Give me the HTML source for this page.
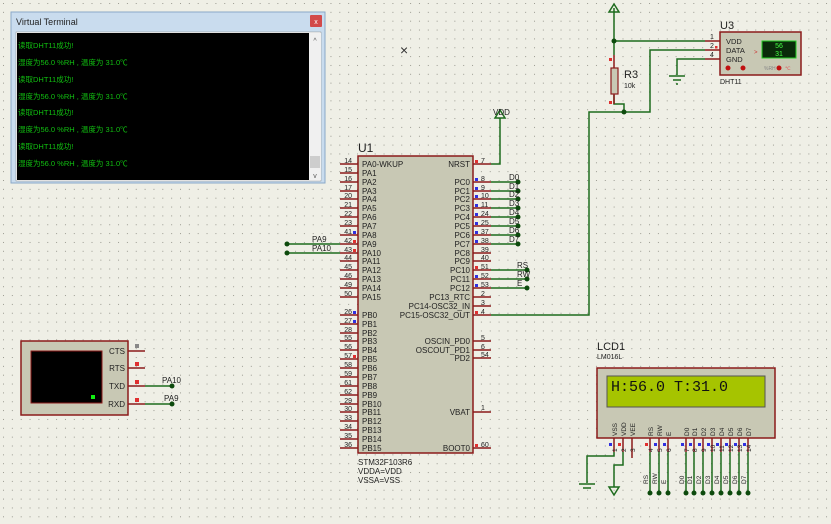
<!DOCTYPE html>
<html><head><meta charset="utf-8"><style>
html,body{margin:0;padding:0;width:831px;height:524px;overflow:hidden;background:#efefe6}
svg{display:block}
text{font-family:"Liberation Sans",sans-serif}
</style></head><body>
<svg width="831" height="524" viewBox="0 0 831 524" xmlns="http://www.w3.org/2000/svg">
<defs>
<pattern id="dots" width="8.85" height="8.85" patternUnits="userSpaceOnUse" x="3" y="3"><rect x="0" y="0" width="1" height="1" fill="#9a9a90"/></pattern>
</defs>
<rect width="831" height="524" fill="#efefe6"/>
<rect width="831" height="524" fill="url(#dots)"/>

<g stroke="#1d6b1d" stroke-width="1.5" fill="none">
<polyline points="491,164 500,164 500,118"/>
<line x1="287" y1="244" x2="340" y2="244"/>
<line x1="287" y1="253" x2="340" y2="253"/>
<line x1="491" y1="182" x2="518" y2="182"/><line x1="491" y1="191" x2="518" y2="191"/>
<line x1="491" y1="199" x2="518" y2="199"/><line x1="491" y1="208" x2="518" y2="208"/>
<line x1="491" y1="217" x2="518" y2="217"/><line x1="491" y1="226" x2="518" y2="226"/>
<line x1="491" y1="235" x2="518" y2="235"/><line x1="491" y1="244" x2="518" y2="244"/>
<line x1="491" y1="270" x2="527" y2="270"/><line x1="491" y1="279" x2="527" y2="279"/>
<line x1="491" y1="288" x2="527" y2="288"/>
<polyline points="491,315 589,315 589,112 650,112 650,50 705,50"/>
<polyline points="614,8 614,55"/>
<polyline points="614,95 614,104 624,104 624,112"/>
<line x1="614" y1="41" x2="705" y2="41"/>
<polyline points="705,59 677,59 677,75"/>
<line x1="145" y1="386" x2="172" y2="386"/>
<line x1="145" y1="404" x2="172" y2="404"/>
<polyline points="614,452 614,456 587,456 587,483"/>
<polyline points="623,452 623,465 614,465 614,487"/>
<line x1="650" y1="452" x2="650" y2="493"/><line x1="659" y1="452" x2="659" y2="493"/><line x1="668" y1="452" x2="668" y2="493"/>
<line x1="686" y1="452" x2="686" y2="493"/><line x1="694" y1="452" x2="694" y2="493"/><line x1="703" y1="452" x2="703" y2="493"/>
<line x1="712" y1="452" x2="712" y2="493"/><line x1="721" y1="452" x2="721" y2="493"/><line x1="730" y1="452" x2="730" y2="493"/>
<line x1="739" y1="452" x2="739" y2="493"/><line x1="748" y1="452" x2="748" y2="493"/>
</g>
<g fill="#0d4a0d">
<circle cx="287" cy="244" r="2.5"/><circle cx="287" cy="253" r="2.5"/>
<circle cx="518" cy="182" r="2.5"/><circle cx="518" cy="191" r="2.5"/><circle cx="518" cy="199" r="2.5"/><circle cx="518" cy="208" r="2.5"/>
<circle cx="518" cy="217" r="2.5"/><circle cx="518" cy="226" r="2.5"/><circle cx="518" cy="235" r="2.5"/><circle cx="518" cy="244" r="2.5"/>
<circle cx="527" cy="270" r="2.5"/><circle cx="527" cy="279" r="2.5"/><circle cx="527" cy="288" r="2.5"/>
<circle cx="614" cy="41" r="2.5"/><circle cx="624" cy="112" r="2.5"/>
<circle cx="172" cy="386" r="2.5"/><circle cx="172" cy="404" r="2.5"/>
<circle cx="650" cy="493" r="2.5"/><circle cx="659" cy="493" r="2.5"/><circle cx="668" cy="493" r="2.5"/>
<circle cx="686" cy="493" r="2.5"/><circle cx="694" cy="493" r="2.5"/><circle cx="703" cy="493" r="2.5"/><circle cx="712" cy="493" r="2.5"/>
<circle cx="721" cy="493" r="2.5"/><circle cx="730" cy="493" r="2.5"/><circle cx="739" cy="493" r="2.5"/><circle cx="748" cy="493" r="2.5"/>
</g>
<g stroke="#1d6b1d" stroke-width="1.5" fill="none">
<polygon points="500,110 495,118 505,118"/>
<polygon points="614,4 609,12 619,12"/>
<line x1="669" y1="76" x2="685" y2="76"/><line x1="673" y1="80" x2="681" y2="80"/><line x1="676" y1="84" x2="678" y2="84"/>
<line x1="579" y1="484" x2="595" y2="484"/><line x1="583" y1="488" x2="591" y2="488"/>
<polygon points="614,495 609,487 619,487"/>
</g>
<text x="493" y="115" font-size="8" fill="#222">VDD</text>
<text x="400" y="55" font-size="14" fill="#333">×</text>

<g font-size="8" fill="#222">
<text x="312" y="242">PA9</text><text x="312" y="251">PA10</text>
<text x="509" y="180">D0</text><text x="509" y="189">D1</text><text x="509" y="197">D2</text><text x="509" y="206">D3</text>
<text x="509" y="215">D4</text><text x="509" y="224">D5</text><text x="509" y="233">D6</text><text x="509" y="242">D7</text>
<text x="517" y="268">RS</text><text x="517" y="277">RW</text><text x="517" y="286">E</text>
<text x="162" y="383">PA10</text><text x="164" y="401">PA9</text>
</g>

<text x="358" y="152" font-size="12" fill="#222">U1</text>
<rect x="358" y="156" width="115" height="297" fill="#c8c8b4" stroke="#8b1a1a" stroke-width="1.5"/>
<g stroke="#8b1a1a" stroke-width="1.5">
<line x1="340" y1="164" x2="358" y2="164"/><line x1="340" y1="173" x2="358" y2="173"/><line x1="340" y1="182" x2="358" y2="182"/><line x1="340" y1="191" x2="358" y2="191"/>
<line x1="340" y1="199" x2="358" y2="199"/><line x1="340" y1="208" x2="358" y2="208"/><line x1="340" y1="217" x2="358" y2="217"/><line x1="340" y1="226" x2="358" y2="226"/>
<line x1="340" y1="235" x2="358" y2="235"/><line x1="340" y1="244" x2="358" y2="244"/><line x1="340" y1="253" x2="358" y2="253"/><line x1="340" y1="261" x2="358" y2="261"/>
<line x1="340" y1="270" x2="358" y2="270"/><line x1="340" y1="279" x2="358" y2="279"/><line x1="340" y1="288" x2="358" y2="288"/><line x1="340" y1="297" x2="358" y2="297"/>
<line x1="340" y1="315" x2="358" y2="315"/><line x1="340" y1="324" x2="358" y2="324"/><line x1="340" y1="333" x2="358" y2="333"/><line x1="340" y1="341" x2="358" y2="341"/>
<line x1="340" y1="350" x2="358" y2="350"/><line x1="340" y1="359" x2="358" y2="359"/><line x1="340" y1="368" x2="358" y2="368"/><line x1="340" y1="377" x2="358" y2="377"/>
<line x1="340" y1="386" x2="358" y2="386"/><line x1="340" y1="395" x2="358" y2="395"/><line x1="340" y1="404" x2="358" y2="404"/><line x1="340" y1="412" x2="358" y2="412"/>
<line x1="340" y1="421" x2="358" y2="421"/><line x1="340" y1="430" x2="358" y2="430"/><line x1="340" y1="439" x2="358" y2="439"/><line x1="340" y1="448" x2="358" y2="448"/>
<line x1="473" y1="164" x2="491" y2="164"/>
<line x1="473" y1="182" x2="491" y2="182"/><line x1="473" y1="191" x2="491" y2="191"/><line x1="473" y1="199" x2="491" y2="199"/><line x1="473" y1="208" x2="491" y2="208"/>
<line x1="473" y1="217" x2="491" y2="217"/><line x1="473" y1="226" x2="491" y2="226"/><line x1="473" y1="235" x2="491" y2="235"/><line x1="473" y1="244" x2="491" y2="244"/>
<line x1="473" y1="253" x2="491" y2="253"/><line x1="473" y1="261" x2="491" y2="261"/><line x1="473" y1="270" x2="491" y2="270"/><line x1="473" y1="279" x2="491" y2="279"/>
<line x1="473" y1="288" x2="491" y2="288"/><line x1="473" y1="297" x2="491" y2="297"/><line x1="473" y1="306" x2="491" y2="306"/><line x1="473" y1="315" x2="491" y2="315"/>
<line x1="473" y1="341" x2="491" y2="341"/><line x1="473" y1="350" x2="491" y2="350"/><line x1="473" y1="358" x2="491" y2="358"/>
<line x1="473" y1="412" x2="491" y2="412"/><line x1="473" y1="448" x2="491" y2="448"/>
</g>
<g font-size="7" fill="#222" text-anchor="end">
<text x="352" y="163">14</text><text x="352" y="172">15</text><text x="352" y="181">16</text><text x="352" y="190">17</text>
<text x="352" y="198">20</text><text x="352" y="207">21</text><text x="352" y="216">22</text><text x="352" y="225">23</text>
<text x="352" y="234">41</text><text x="352" y="243">42</text><text x="352" y="252">43</text><text x="352" y="260">44</text>
<text x="352" y="269">45</text><text x="352" y="278">46</text><text x="352" y="287">49</text><text x="352" y="296">50</text>
<text x="352" y="314">26</text><text x="352" y="323">27</text><text x="352" y="332">28</text><text x="352" y="340">55</text>
<text x="352" y="349">56</text><text x="352" y="358">57</text><text x="352" y="367">58</text><text x="352" y="376">59</text>
<text x="352" y="385">61</text><text x="352" y="394">62</text><text x="352" y="403">29</text><text x="352" y="411">30</text>
<text x="352" y="420">33</text><text x="352" y="429">34</text><text x="352" y="438">35</text><text x="352" y="447">36</text>
</g>
<g font-size="7" fill="#222">
<text x="481" y="163">7</text><text x="481" y="181">8</text><text x="481" y="190">9</text><text x="481" y="198">10</text><text x="481" y="207">11</text>
<text x="481" y="216">24</text><text x="481" y="225">25</text><text x="481" y="234">37</text><text x="481" y="243">38</text><text x="481" y="252">39</text>
<text x="481" y="260">40</text><text x="481" y="269">51</text><text x="481" y="278">52</text><text x="481" y="287">53</text><text x="481" y="296">2</text>
<text x="481" y="305">3</text><text x="481" y="314">4</text><text x="481" y="340">5</text><text x="481" y="349">6</text><text x="481" y="357">54</text>
<text x="481" y="410">1</text><text x="481" y="447">60</text>
</g>
<g fill="#e03030"><rect x="475" y="160" width="3" height="3"/><rect x="353" y="240" width="3" height="3"/><rect x="353" y="249" width="3" height="3"/><rect x="353" y="355" width="3" height="3"/><rect x="475" y="266" width="3" height="3"/><rect x="475" y="311" width="3" height="3"/><rect x="475" y="444" width="3" height="3"/></g>
<g fill="#3030e0"><rect x="475" y="178" width="3" height="3"/><rect x="475" y="187" width="3" height="3"/><rect x="475" y="195" width="3" height="3"/><rect x="475" y="204" width="3" height="3"/><rect x="475" y="213" width="3" height="3"/><rect x="475" y="222" width="3" height="3"/><rect x="475" y="231" width="3" height="3"/><rect x="475" y="240" width="3" height="3"/><rect x="475" y="275" width="3" height="3"/><rect x="475" y="284" width="3" height="3"/><rect x="353" y="231" width="3" height="3"/><rect x="353" y="311" width="3" height="3"/><rect x="353" y="320" width="3" height="3"/></g>
<g font-size="8" fill="#222">
<text x="362" y="167">PA0-WKUP</text><text x="362" y="176">PA1</text><text x="362" y="185">PA2</text><text x="362" y="194">PA3</text>
<text x="362" y="202">PA4</text><text x="362" y="211">PA5</text><text x="362" y="220">PA6</text><text x="362" y="229">PA7</text>
<text x="362" y="238">PA8</text><text x="362" y="247">PA9</text><text x="362" y="256">PA10</text><text x="362" y="264">PA11</text>
<text x="362" y="273">PA12</text><text x="362" y="282">PA13</text><text x="362" y="291">PA14</text><text x="362" y="300">PA15</text>
<text x="362" y="318">PB0</text><text x="362" y="327">PB1</text><text x="362" y="336">PB2</text><text x="362" y="344">PB3</text>
<text x="362" y="353">PB4</text><text x="362" y="362">PB5</text><text x="362" y="371">PB6</text><text x="362" y="380">PB7</text>
<text x="362" y="389">PB8</text><text x="362" y="398">PB9</text><text x="362" y="407">PB10</text><text x="362" y="415">PB11</text>
<text x="362" y="424">PB12</text><text x="362" y="433">PB13</text><text x="362" y="442">PB14</text><text x="362" y="451">PB15</text>
</g>
<g font-size="8" fill="#222" text-anchor="end">
<text x="470" y="167">NRST</text><text x="470" y="185">PC0</text><text x="470" y="194">PC1</text><text x="470" y="202">PC2</text>
<text x="470" y="211">PC3</text><text x="470" y="220">PC4</text><text x="470" y="229">PC5</text><text x="470" y="238">PC6</text>
<text x="470" y="247">PC7</text><text x="470" y="256">PC8</text><text x="470" y="264">PC9</text><text x="470" y="273">PC10</text>
<text x="470" y="282">PC11</text><text x="470" y="291">PC12</text><text x="470" y="300">PC13_RTC</text><text x="470" y="309">PC14-OSC32_IN</text>
<text x="470" y="318">PC15-OSC32_OUT</text><text x="470" y="344">OSCIN_PD0</text><text x="470" y="353">OSCOUT_PD1</text><text x="470" y="361">PD2</text>
<text x="470" y="415">VBAT</text><text x="470" y="451">BOOT0</text>
</g>
<g font-size="8" fill="#222"><text x="358" y="465">STM32F103R6</text><text x="358" y="474">VDDA=VDD</text><text x="358" y="483">VSSA=VSS</text></g>

<rect x="611" y="68" width="7" height="26" fill="#c8c8b4" stroke="#8b1a1a" stroke-width="1.2"/>
<line x1="614" y1="55" x2="614" y2="68" stroke="#8b1a1a" stroke-width="1.5"/>
<line x1="614" y1="94" x2="614" y2="104" stroke="#8b1a1a" stroke-width="1.5"/>
<rect x="609" y="58" width="3" height="3" fill="#e03030"/><rect x="609" y="101" width="3" height="3" fill="#e03030"/>
<text x="624" y="78" font-size="11" fill="#222">R3</text><text x="624" y="88" font-size="7" fill="#222">10k</text>

<text x="720" y="29" font-size="11" fill="#222">U3</text>
<rect x="720" y="32" width="81" height="43" fill="#c8c8b4" stroke="#8b1a1a" stroke-width="1.5"/>
<g stroke="#8b1a1a" stroke-width="1.5"><line x1="705" y1="41" x2="720" y2="41"/><line x1="705" y1="50" x2="720" y2="50"/><line x1="705" y1="59" x2="720" y2="59"/></g>
<g font-size="7" fill="#222"><text x="710" y="39">1</text><text x="710" y="48">2</text><text x="710" y="57">4</text></g>
<rect x="715" y="46" width="2.5" height="2.5" fill="#e03030"/>
<g font-size="7.5" fill="#222"><text x="726" y="44">VDD</text><text x="726" y="53">DATA</text><text x="726" y="62">GND</text></g>
<rect x="762" y="41" width="34" height="17" fill="#0a2a0a" stroke="#2c2" stroke-width="1"/>
<g font-size="7" fill="#4f4" text-anchor="middle"><text x="779" y="48">56</text><text x="779" y="56">31</text></g>
<text x="754" y="54" font-size="6" fill="#c33">&gt;</text>
<g fill="#c01010"><circle cx="728" cy="68" r="2.5"/><circle cx="743" cy="68" r="2.5"/><circle cx="779" cy="68" r="2.5"/></g>
<text x="764" y="70" font-size="5" fill="#888">%RH</text><text x="785" y="70" font-size="5" fill="#d66">℃</text>
<text x="720" y="84" font-size="7" fill="#222">DHT11</text>

<rect x="21" y="341" width="107" height="74" fill="#c8c8b4" stroke="#8b1a1a" stroke-width="1.5"/>
<rect x="31" y="351" width="71" height="52" fill="#000" stroke="#8b1a1a" stroke-width="1"/>
<rect x="91" y="395" width="4" height="4" fill="#1e1"/>
<g stroke="#8b1a1a" stroke-width="1.5"><line x1="128" y1="351" x2="145" y2="351"/><line x1="128" y1="368" x2="145" y2="368"/><line x1="128" y1="386" x2="145" y2="386"/><line x1="128" y1="404" x2="145" y2="404"/></g>
<rect x="135" y="344" width="4" height="4" fill="#888"/><rect x="135" y="362" width="4" height="4" fill="#e03030"/><rect x="135" y="380" width="4" height="4" fill="#e03030"/><rect x="135" y="398" width="4" height="4" fill="#e03030"/>
<g font-size="8" fill="#222" text-anchor="end"><text x="125" y="354">CTS</text><text x="125" y="371">RTS</text><text x="125" y="389">TXD</text><text x="125" y="407">RXD</text></g>

<text x="597" y="350" font-size="11" fill="#222">LCD1</text>
<text x="597" y="359" font-size="7" fill="#222">LM016L</text>
<rect x="597" y="368" width="178" height="70" fill="#c8c8b4" stroke="#8b1a1a" stroke-width="1.5"/>
<rect x="607" y="376" width="158" height="31" fill="#a6c400" stroke="#555" stroke-width="1"/>
<text x="611" y="391" style="font-family:'Liberation Mono',monospace;font-size:15px" fill="#111">H:56.0 T:31.0</text>
<g stroke="#8b1a1a" stroke-width="1.5">
<line x1="614" y1="438" x2="614" y2="452"/><line x1="623" y1="438" x2="623" y2="452"/><line x1="632" y1="438" x2="632" y2="458"/>
<line x1="650" y1="438" x2="650" y2="452"/><line x1="659" y1="438" x2="659" y2="452"/><line x1="668" y1="438" x2="668" y2="452"/>
<line x1="686" y1="438" x2="686" y2="452"/><line x1="694" y1="438" x2="694" y2="452"/><line x1="703" y1="438" x2="703" y2="452"/><line x1="712" y1="438" x2="712" y2="452"/>
<line x1="721" y1="438" x2="721" y2="452"/><line x1="730" y1="438" x2="730" y2="452"/><line x1="739" y1="438" x2="739" y2="452"/><line x1="748" y1="438" x2="748" y2="452"/>
</g>
<g fill="#3030e0"><rect x="609" y="443" width="3" height="3"/><rect x="654" y="443" width="3" height="3"/><rect x="663" y="443" width="3" height="3"/><rect x="681" y="443" width="3" height="3"/><rect x="689" y="443" width="3" height="3"/><rect x="698" y="443" width="3" height="3"/><rect x="707" y="443" width="3" height="3"/><rect x="716" y="443" width="3" height="3"/><rect x="725" y="443" width="3" height="3"/><rect x="734" y="443" width="3" height="3"/><rect x="743" y="443" width="3" height="3"/></g>
<g fill="#e03030"><rect x="618" y="443" width="3" height="3"/><rect x="645" y="443" width="3" height="3"/></g>
<g font-size="6.5" fill="#222">
<text transform="translate(617,436) rotate(-90)">VSS</text><text transform="translate(626,436) rotate(-90)">VDD</text><text transform="translate(635,436) rotate(-90)">VEE</text>
<text transform="translate(653,436) rotate(-90)">RS</text><text transform="translate(662,436) rotate(-90)">RW</text><text transform="translate(671,436) rotate(-90)">E</text>
<text transform="translate(689,436) rotate(-90)">D0</text><text transform="translate(697,436) rotate(-90)">D1</text><text transform="translate(706,436) rotate(-90)">D2</text><text transform="translate(715,436) rotate(-90)">D3</text>
<text transform="translate(724,436) rotate(-90)">D4</text><text transform="translate(733,436) rotate(-90)">D5</text><text transform="translate(742,436) rotate(-90)">D6</text><text transform="translate(751,436) rotate(-90)">D7</text>
<text transform="translate(617,452) rotate(-90)">1</text><text transform="translate(626,452) rotate(-90)">2</text><text transform="translate(635,452) rotate(-90)">3</text>
<text transform="translate(653,452) rotate(-90)">4</text><text transform="translate(662,452) rotate(-90)">5</text><text transform="translate(671,452) rotate(-90)">6</text>
<text transform="translate(689,452) rotate(-90)">7</text><text transform="translate(697,452) rotate(-90)">8</text><text transform="translate(706,452) rotate(-90)">9</text><text transform="translate(715,452) rotate(-90)">10</text>
<text transform="translate(724,452) rotate(-90)">11</text><text transform="translate(733,452) rotate(-90)">12</text><text transform="translate(742,452) rotate(-90)">13</text><text transform="translate(751,452) rotate(-90)">14</text>
<text transform="translate(648,484) rotate(-90)">RS</text><text transform="translate(657,484) rotate(-90)">RW</text><text transform="translate(666,484) rotate(-90)">E</text>
<text transform="translate(684,484) rotate(-90)">D0</text><text transform="translate(692,484) rotate(-90)">D1</text><text transform="translate(701,484) rotate(-90)">D2</text><text transform="translate(710,484) rotate(-90)">D3</text>
<text transform="translate(719,484) rotate(-90)">D4</text><text transform="translate(728,484) rotate(-90)">D5</text><text transform="translate(737,484) rotate(-90)">D6</text><text transform="translate(746,484) rotate(-90)">D7</text>
</g>

<rect x="11" y="12" width="314" height="171" fill="#c9dcee" stroke="#8aa8c8" stroke-width="1"/>
<text x="16" y="25" font-size="9" fill="#222">Virtual Terminal</text>
<rect x="310" y="15" width="12" height="12" fill="#d24a4a" rx="1"/>
<text x="316" y="24" font-size="7" fill="#fff" text-anchor="middle">x</text>
<rect x="16" y="32" width="305" height="149" fill="#fff" stroke="#888" stroke-width="0.5"/>
<rect x="17" y="33" width="292" height="147" fill="#000"/>
<rect x="309" y="33" width="12" height="147" fill="#f0f0f0"/>
<rect x="310" y="156" width="10" height="12" fill="#cdcdcd"/>
<text x="315" y="43" font-size="7" fill="#555" text-anchor="middle">^</text>
<text x="315" y="178" font-size="7" fill="#555" text-anchor="middle">v</text>
<g style="font-family:'Liberation Mono','Noto Sans CJK SC',monospace;font-size:7.5px" fill="#11c011">
<text x="18" y="48">读取DHT11成功!</text>
<text x="18" y="65">湿度为56.0 %RH , 温度为 31.0℃</text>
<text x="18" y="82">读取DHT11成功!</text>
<text x="18" y="99">湿度为56.0 %RH , 温度为 31.0℃</text>
<text x="18" y="115">读取DHT11成功!</text>
<text x="18" y="132">湿度为56.0 %RH , 温度为 31.0℃</text>
<text x="18" y="149">读取DHT11成功!</text>
<text x="18" y="166">湿度为56.0 %RH , 温度为 31.0℃</text>
</g>
</svg>
</body></html>
